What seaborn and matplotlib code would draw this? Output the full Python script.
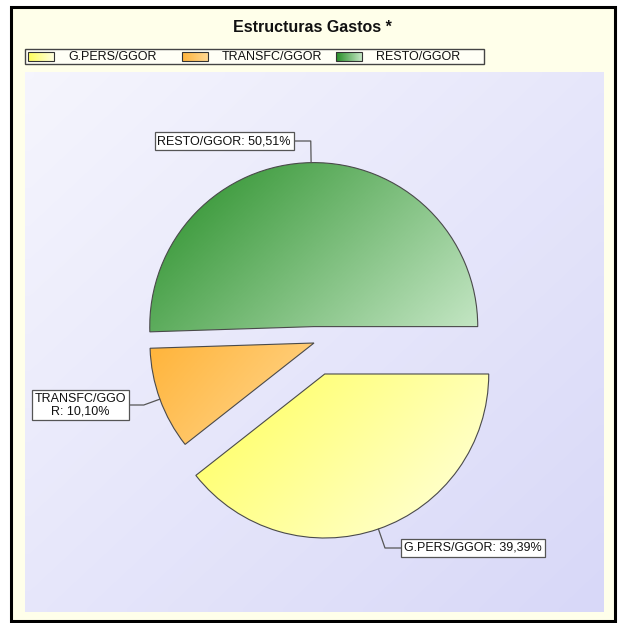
import textwrap

import matplotlib.pyplot as plt
import numpy as np
import seaborn as sns
from matplotlib.patches import Rectangle

categories = ["G.PERS/GGOR", "TRANSFC/GGOR", "RESTO/GGOR"]
shares = [39.39, 10.10, 50.51]
title = "Estructuras Gastos *"

# saturated -> light end of each slice's gradient
DARK = ["#ffff5a", "#ffb43a", "#268e26"]
LIGHT = ["#ffffe0", "#ffd892", "#c4e6c4"]
EXPLODE = [0.2, 0.0, 0.1]
# label box centres, in pixel-like axes units (y up)
LABEL_POS = [(473, 75), (80, 218), (224, 482)]

W, H = 619, 623
R = 164
CENTER = (314, 280)


def gradient(ax, extent, dark, light, clip=None, horizontal=False, zorder=1, wx=0.65):
    '''colour ramp from top-left (dark) to bottom-right (light)'''
    u = np.linspace(0, 1, 64)
    if horizontal:
        g = np.tile(u, (2, 1))
    else:
        g = wx * u[None, :] + (1 - wx) * u[::-1, None]
    cmap = sns.blend_palette([dark, light], as_cmap=True)
    im = ax.imshow(g, cmap=cmap, vmin=0, vmax=1, extent=extent, origin="lower",
                   aspect="auto", interpolation="bilinear", zorder=zorder)
    if clip is not None:
        im.set_clip_path(clip)
    return im


sns.set_theme(style="white")
plt.rcParams["font.family"] = ["Liberation Sans", "DejaVu Sans"]

fig = plt.figure(figsize=(W / 100, H / 100), dpi=100)
fig.patch.set_facecolor("white")
ax = fig.add_axes([0, 0, 1, 1])

# outer frame + plot area
ax.add_patch(Rectangle((11, 2), 604, 614, fc="#ffffea", ec="black", lw=2.2, zorder=0))
gradient(ax, (25, 604, 11, 551), "#f5f5fd", "#d8d8f8", zorder=0.5, wx=0.5)

ax.text(312, 595, title, ha="center", va="center", fontsize=11.5, weight="bold",
        color="#111111")

# legend, fixed-width columns like the original
ax.add_patch(Rectangle((25, 559), 459, 15, fc="#fffff6", ec="#444444", lw=1, zorder=2))
for i, (cat, dk, lt) in enumerate(zip(categories, DARK, LIGHT)):
    x0 = 28 + 154 * i
    gradient(ax, (x0, x0 + 26, 562, 571), dk, lt, horizontal=True, zorder=3)
    ax.add_patch(Rectangle((x0, 562), 26, 9, fc="none", ec="#333333", lw=0.8, zorder=4))
    ax.text(x0 + 40, 566.5, cat, ha="left", va="center", fontsize=9, color="#111111",
            zorder=4)

wedges, _ = ax.pie(shares, explode=[e * R for e in EXPLODE], center=CENTER, radius=R,
                   startangle=0, counterclock=False, frame=False,
                   wedgeprops=dict(fc="none", ec="#4a4a4a", lw=0.8, zorder=3))

for w, cat, val, pos, dk, lt in zip(wedges, categories, shares, LABEL_POS, DARK, LIGHT):
    x0, y0, x1, y1 = w.get_path().get_extents().extents
    gradient(ax, (x0, x1, y0, y1), dk, lt, clip=w, zorder=2)

    thm = np.deg2rad((w.theta1 + w.theta2) / 2)
    cx, cy = w.center
    anchor = (cx + w.r * np.cos(thm), cy + w.r * np.sin(thm))
    txt = f"{cat}: " + f"{val:.2f}".replace(".", ",") + "%"
    if val < 15:
        txt = textwrap.fill(txt, 11)
    ax.annotate(txt, xy=anchor, xytext=pos, ha="center", va="center", fontsize=9,
                color="#111111", linespacing=1.05, zorder=5,
                bbox=dict(boxstyle="square,pad=0.22", fc="white", ec="#555555", lw=0.9),
                arrowprops=dict(arrowstyle="-", color="#555555", lw=0.9,
                                shrinkA=0, shrinkB=0,
                                connectionstyle=f"angle,angleA=0,angleB={np.rad2deg(thm):.1f},rad=0"))

ax.set_xlim(0, W)
ax.set_ylim(0, H)
ax.axis("off")

fig.savefig("out.png", dpi=100)
